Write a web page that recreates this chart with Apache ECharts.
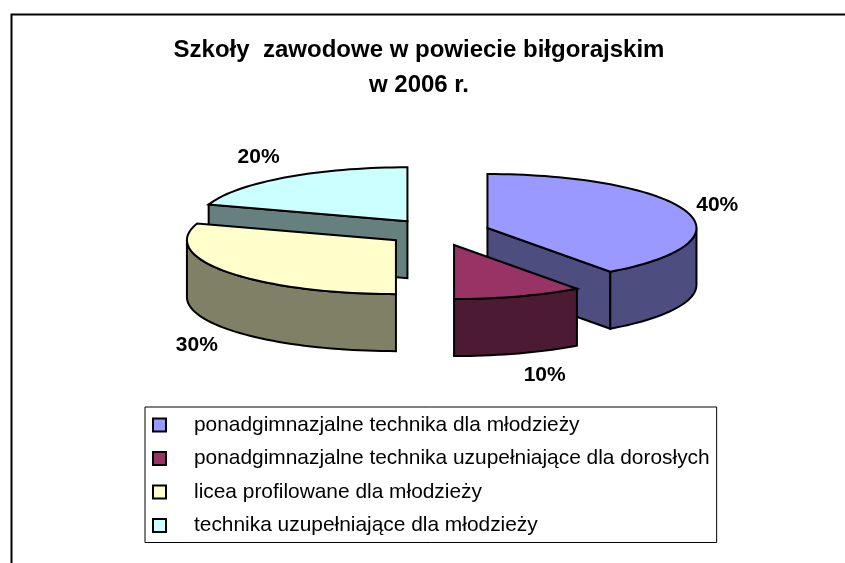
<!DOCTYPE html>
<html>
<head>
<meta charset="utf-8">
<style>html,body{margin:0;padding:0;background:#fff}#c{width:845px;height:563px}</style>
<script src="https://cdn.jsdelivr.net/npm/echarts@6/dist/echarts.min.js"></script>
</head>
<body>
<div id="c"></div>
<script>
const categories = [
  'ponadgimnazjalne technika dla młodzieży',
  'ponadgimnazjalne technika uzupełniające dla dorosłych',
  'licea profilowane dla młodzieży',
  'technika uzupełniające dla młodzieży'
];
const values = [40, 10, 30, 20];
const topColors = ['#9999FF', '#993366', '#FFFFCC', '#CCFFFF'];
const sideColors = ['#4D4D80', '#4D1A33', '#808066', '#668080'];
const drawOrder = [3, 5, 4, 2];          // z stacking of the slices, back to front
const labelOffsets = [[31, -6], [26, 22], [-30, 16], [-26, -20]];

const PIE = { cx: 438, cy: 232.2, rx: 209, ry: 54, depth: 57, ex: 52, ey: 13.5 };
const total = values.reduce((a, b) => a + b, 0);
const rad = d => d * Math.PI / 180;

function arcPoints(c, from, to, dy) {
  const pts = [], n = Math.max(2, Math.ceil(Math.abs(to - from) / 2));
  for (let i = 0; i <= n; i++) {
    const a = rad(from + (to - from) * i / n);
    pts.push([c[0] + PIE.rx * Math.sin(a), c[1] - PIE.ry * Math.cos(a) + dy]);
  }
  return pts;
}

function sliceSeries(index) {
  const before = values.slice(0, index).reduce((a, b) => a + b, 0);
  const start = before / total * 360;
  const end = (before + values[index]) / total * 360;
  const mid = rad((start + end) / 2);
  const c = [PIE.cx + PIE.ex * Math.sin(mid), PIE.cy - PIE.ey * Math.cos(mid)];
  const stroke = { stroke: '#000', lineWidth: 2, lineJoin: 'miter' };
  return {
    type: 'custom',
    name: categories[index],
    coordinateSystem: 'none',
    z: drawOrder[index],
    silent: true,
    data: [[values[index]]],
    renderItem: function () {
      const d = PIE.depth, children = [];
      const poly = (points, fill) => children.push({
        type: 'polygon', shape: { points },
        style: Object.assign({ fill }, stroke)
      });
      // radial wall facing the viewer
      const wall = a => {
        const p = arcPoints(c, a, a, 0)[0];
        poly([c, p, [p[0], p[1] + d], [c[0], c[1] + d]], sideColors[index]);
      };
      if (end > 0 && end < 180) wall(end);
      if (start > 180 && start < 360) wall(start);
      // outer rim, visible from 90° to 270°
      const a0 = Math.max(start, 90), a1 = Math.min(end, 270);
      if (a1 > a0) {
        const upper = arcPoints(c, a0, a1, 0);
        const lower = arcPoints(c, a0, a1, d).reverse();
        poly(upper.concat(lower), sideColors[index]);
      }
      // top face
      poly([c].concat(arcPoints(c, start, end, 0)), topColors[index]);
      return { type: 'group', children };
    }
  };
}

function labelSeries() {
  return {
    type: 'custom',
    name: 'labels',
    coordinateSystem: 'none',
    z: 10,
    silent: true,
    data: values.map((v, i) => [v, i]),
    renderItem: function (params, api) {
      const i = api.value(1);
      const before = values.slice(0, i).reduce((a, b) => a + b, 0);
      const mid = rad((before + values[i] / 2) / total * 360);
      const c = [PIE.cx + PIE.ex * Math.sin(mid), PIE.cy - PIE.ey * Math.cos(mid)];
      const front = Math.cos(mid) < 0 ? PIE.depth : 0;
      return {
        type: 'text',
        style: {
          x: c[0] + PIE.rx * Math.sin(mid) + labelOffsets[i][0],
          y: c[1] - PIE.ry * Math.cos(mid) + front + labelOffsets[i][1],
          text: Math.round(api.value(0) / total * 100) + '%',
          fill: '#000',
          font: 'bold 21px "Liberation Sans", Arial, sans-serif',
          align: 'center',
          verticalAlign: 'middle'
        }
      };
    }
  };
}

const chart = echarts.init(document.getElementById('c'), null, { renderer: 'canvas' });
chart.setOption({
  animation: false,
  backgroundColor: '#fff',
  title: {
    text: 'Szkoły  zawodowe w powiecie biłgorajskim\nw 2006 r.',
    left: 414, top: 28, textAlign: 'center',
    textStyle: { fontFamily: '"Liberation Sans", Arial, sans-serif', fontWeight: 'bold', fontSize: 24, lineHeight: 35, color: '#000' }
  },
  legend: {
    orient: 'vertical',
    left: 145, top: 407,
    padding: [7, 7, 6, 7],
    itemGap: 11.5,
    itemWidth: 13, itemHeight: 13,
    borderColor: '#000', borderWidth: 1,
    backgroundColor: '#fff',
    selectedMode: false,
    textStyle: {
      fontFamily: '"Liberation Sans", Arial, sans-serif', fontSize: 20.9, color: '#000',
      height: 22, lineHeight: 22, padding: [0, 0, 0, 23]
    },
    data: categories.map((name, i) => ({
      name, icon: 'rect',
      itemStyle: { color: topColors[i], borderColor: '#000', borderWidth: 2 }
    }))
  },
  graphic: [{
    type: 'polyline', silent: true,
    shape: { points: [[11.5, 563], [11.5, 14.5], [845, 14.5]] },
    style: { stroke: '#000', lineWidth: 2, fill: null }
  }],
  series: values.map((v, i) => sliceSeries(i)).concat([labelSeries()])
});
</script>
</body>
</html>
